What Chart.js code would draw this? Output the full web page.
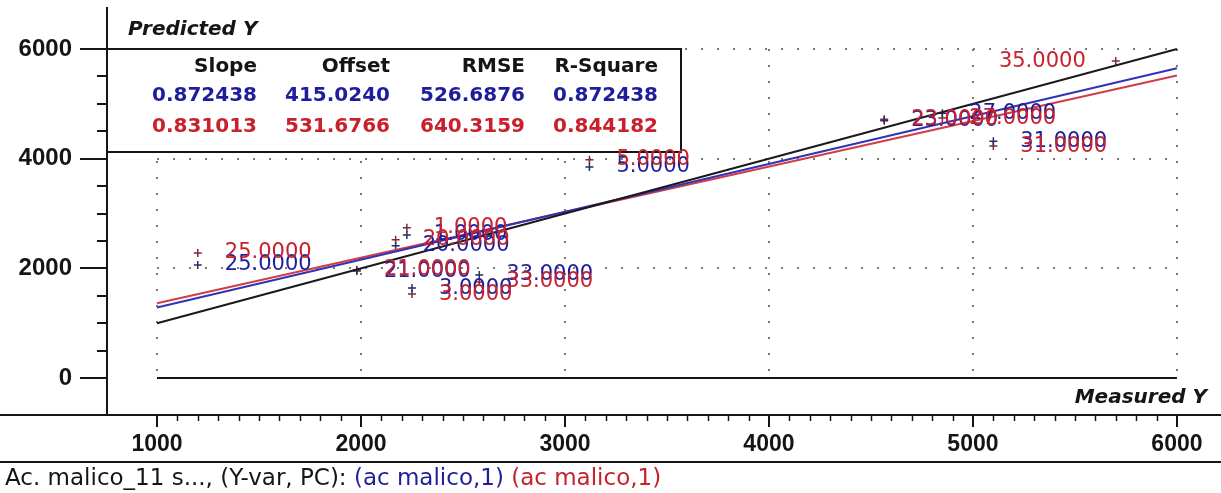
<!DOCTYPE html>
<html>
<head>
<meta charset="utf-8">
<script src="https://cdn.jsdelivr.net/npm/chart.js@4.4.1/dist/chart.umd.min.js"></script>
<style>
  html, body { margin: 0; padding: 0; background: #fff; }
  #wrap { width: 1221px; height: 493px; }
</style>
</head>
<body>
<div id="wrap"><canvas id="predChart" width="1221" height="493"></canvas></div>
<script>
// sample labels + measured / predicted values
const sampleNames = ["25.0000", "20.0000", "1.0000", "21.0000", "3.0000", "33.0000", "5.0000", "23.0000", "27.0000", "31.0000", "35.0000"];
const measured  = [1200, 2170, 2225, 1980, 2250, 2580, 3120, 4565, 4850, 5100, 5700];
const predBlue  = [2060, 2410, 2610, 1950, 1640, 1880, 3850, 4690, 4830, 4320, null];
const predRed   = [2280, 2520, 2740, 1975, 1530, 1750, 3980, 4720, 4740, 4230, 5780];

// fitted lines (end points) and the target line
const targetLine = [[1000, 1000], [6000, 6000]];
const blueFit    = [[1000, 1287], [6000, 5650]];
const redFit     = [[1000, 1363], [6000, 5518]];

const xTicks = [1000, 2000, 3000, 4000, 5000, 6000];
const yTicks = [0, 2000, 4000, 6000];

// stats table
const statHeads = ["Slope", "Offset", "RMSE", "R-Square"];
const statsBlue = ["0.872438", "415.0240", "526.6876", "0.872438"];
const statsRed  = ["0.831013", "531.6766", "640.3159", "0.844182"];

const BLUE = "#1e1e9c";
const RED = "#c8202c";
const INK = "#151515";

const toXY = arr => arr.map(p => ({ x: p[0], y: p[1] }));
const pts = vals => measured.map((m, i) => ({ x: m, y: vals[i] }));

// no extra label padding, keeps the plot area where we put it
function noPad(s) {
  s.paddingTop = 0; s.paddingBottom = 0; s.paddingLeft = 0; s.paddingRight = 0;
}

// ------------------------------------------------------------
// Frame, grid, stats box, point names
// ------------------------------------------------------------
const decorPlugin = {
  id: "decor",
  beforeDatasetsDraw(chart) {
    const { ctx, chartArea } = chart;
    const xs = chart.scales.x, ys = chart.scales.y;
    const W = chart.width;
    ctx.save();

    // dotted grid inside the 1000..6000 / 0..6000 area
    ctx.strokeStyle = "#7a7a7a";
    ctx.lineWidth = 2;
    ctx.setLineDash([2, 14]);
    const xL = xs.getPixelForValue(1000), xR = xs.getPixelForValue(6000);
    const yT = ys.getPixelForValue(6000), yB = ys.getPixelForValue(0);
    xTicks.forEach(v => {
      const x = Math.round(xs.getPixelForValue(v));
      ctx.beginPath(); ctx.moveTo(x, yT); ctx.lineTo(x, yB); ctx.stroke();
    });
    yTicks.filter(v => v > 0).forEach(v => {
      const y = Math.round(ys.getPixelForValue(v));
      ctx.beginPath(); ctx.moveTo(xL, y); ctx.lineTo(xR, y); ctx.stroke();
    });
    ctx.setLineDash([]);

    // solid zero line
    ctx.strokeStyle = INK;
    ctx.beginPath(); ctx.moveTo(xL, Math.round(yB)); ctx.lineTo(xR, Math.round(yB)); ctx.stroke();

    // minor ticks
    ctx.lineWidth = 2;
    for (let v = 500; v < 6000; v += 500) {
      if (yTicks.includes(v)) continue;
      const y = Math.round(ys.getPixelForValue(v));
      ctx.beginPath(); ctx.moveTo(chartArea.left - 10, y); ctx.lineTo(chartArea.left, y); ctx.stroke();
    }
    ctx.lineWidth = 1.5;
    for (let v = 1100; v < 6000; v += 100) {
      if (xTicks.includes(v)) continue;
      const x = Math.round(xs.getPixelForValue(v)) + 0.5;
      ctx.beginPath(); ctx.moveTo(x, chartArea.bottom); ctx.lineTo(x, chartArea.bottom + 6); ctx.stroke();
    }

    // axis line runs the full width, plus the rule above the caption
    ctx.lineWidth = 2;
    ctx.beginPath(); ctx.moveTo(0, chartArea.bottom); ctx.lineTo(W, chartArea.bottom); ctx.stroke();
    ctx.beginPath(); ctx.moveTo(0, 462); ctx.lineTo(W, 462); ctx.stroke();

    // stats box
    const bx = chartArea.left, by = Math.round(yT), bw = 681 - chartArea.left, bh = 152 - by;
    ctx.fillStyle = "#fff";
    ctx.fillRect(bx, by, bw, bh);
    ctx.strokeStyle = INK;
    ctx.lineWidth = 2;
    ctx.strokeRect(bx, by, bw, bh);

    const colRight = [257, 390, 525, 658];
    ctx.font = "bold 20px 'DejaVu Sans'";
    ctx.textAlign = "right";
    ctx.textBaseline = "middle";
    statHeads.forEach((t, i) => { ctx.fillStyle = INK; ctx.fillText(t, colRight[i], 67); });
    statsBlue.forEach((t, i) => { ctx.fillStyle = BLUE; ctx.fillText(t, colRight[i], 96); });
    statsRed.forEach((t, i) => { ctx.fillStyle = RED; ctx.fillText(t, colRight[i], 127); });

    ctx.restore();
  },
  afterDatasetsDraw(chart) {
    const { ctx } = chart;
    const xs = chart.scales.x;
    const rightLimit = xs.getPixelForValue(6000);
    ctx.save();
    ctx.font = "21px 'DejaVu Sans'";
    ctx.textBaseline = "middle";
    [[3, BLUE], [4, RED]].forEach(([di, col]) => {
      const meta = chart.getDatasetMeta(di);
      meta.data.forEach((el, i) => {
        if (el.skip || isNaN(el.y)) return;
        const name = sampleNames[i];
        const w = ctx.measureText(name).width;
        ctx.fillStyle = col;
        if (el.x + 27 + w > rightLimit) {
          ctx.textAlign = "right";
          ctx.fillText(name, el.x - 30, el.y);
        } else {
          ctx.textAlign = "left";
          ctx.fillText(name, el.x + 27, el.y);
        }
      });
    });

    // axis titles
    ctx.fillStyle = INK;
    ctx.font = "italic bold 20px 'DejaVu Sans'";
    ctx.textAlign = "left";
    ctx.fillText("Predicted Y", 128, 30);
    ctx.textAlign = "right";
    ctx.fillText("Measured Y", 1207, 398);

    // caption line
    ctx.font = "23px 'DejaVu Sans'";
    ctx.textAlign = "left";
    const parts = [["Ac. malico_11 s..., (Y-var, PC): ", INK], ["(ac malico,1)", BLUE], [" (ac malico,1)", RED]];
    let cx = 5;
    parts.forEach(([t, c]) => {
      ctx.fillStyle = c;
      ctx.fillText(t, cx, 479);
      cx += ctx.measureText(t).width;
    });
    ctx.restore();
  }
};

new Chart(document.getElementById("predChart"), {
  type: "scatter",
  data: {
    datasets: [
      { data: toXY(targetLine), showLine: true, borderColor: "#1a1a1a", borderWidth: 2, pointRadius: 0 },
      { data: toXY(blueFit), showLine: true, borderColor: "#3232b4", borderWidth: 2, pointRadius: 0 },
      { data: toXY(redFit), showLine: true, borderColor: "#d23c46", borderWidth: 2, pointRadius: 0 },
      { data: pts(predBlue), pointStyle: "cross", pointRadius: 4, borderWidth: 1.5, borderColor: "#2a2a6a", backgroundColor: "#2a2a6a" },
      { data: pts(predRed), pointStyle: "cross", pointRadius: 4, borderWidth: 1.5, borderColor: "#7a2a40", backgroundColor: "#7a2a40" }
    ]
  },
  options: {
    responsive: false,
    animation: false,
    layout: { autoPadding: false, padding: { top: 8, right: 0, bottom: 31, left: 0 } },
    plugins: { legend: { display: false }, tooltip: { enabled: false } },
    scales: {
      x: {
        type: "linear",
        min: 755,
        max: 6216,
        afterBuildTicks: s => { s.ticks = xTicks.map(v => ({ value: v })); },
        afterFit: s => { s.height = 47; noPad(s); },
        grid: { drawOnChartArea: false, drawTicks: true, tickLength: 12, color: INK, lineWidth: 2 },
        border: { display: true, color: INK, width: 2 },
        ticks: {
          font: { family: "Liberation Sans", size: 23, weight: "bold" }, color: INK,
          padding: 4, maxRotation: 0, autoSkip: false, callback: v => String(v)
        }
      },
      y: {
        type: "linear",
        min: -675,
        max: 6748,
        afterBuildTicks: s => { s.ticks = yTicks.map(v => ({ value: v })); },
        afterFit: s => { s.width = 107; noPad(s); },
        grid: { drawOnChartArea: false, drawTicks: true, tickLength: 27, color: INK, lineWidth: 2 },
        border: { display: true, color: INK, width: 2 },
        ticks: {
          font: { family: "Liberation Sans", size: 24, weight: "bold" }, color: INK,
          padding: 8, autoSkip: false, callback: v => String(v)
        }
      }
    }
  },
  plugins: [decorPlugin]
});
</script>
</body>
</html>
